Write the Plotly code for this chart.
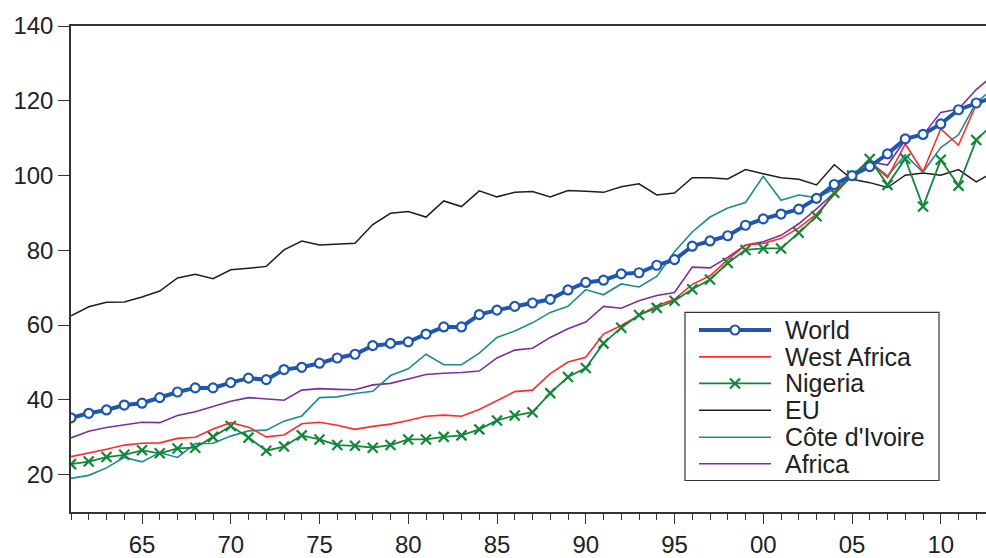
import plotly.graph_objects as go

years = list(range(1961, 2014))

world = [35.2, 36.4, 37.3, 38.6, 39.1, 40.6, 42.1, 43.2, 43.2, 44.6,
         45.8, 45.4, 48.1, 48.7, 49.8, 51.2, 52.2, 54.5, 55.1, 55.5,
         57.6, 59.5, 59.5, 62.8, 64.0, 65.0, 65.9, 66.9, 69.4, 71.4,
         72.0, 73.7, 74.0, 76.0, 77.5, 81.1, 82.5, 83.9, 86.7, 88.4,
         89.7, 91.0, 93.9, 97.6, 100.0, 102.4, 105.8, 109.8, 111.0, 113.8,
         117.6, 119.4, 121.0]

west_africa = [24.8, 25.7, 26.8, 27.9, 28.4, 28.5, 29.7, 30.0, 32.2, 33.9,
               32.7, 30.1, 30.6, 33.6, 34.0, 33.2, 32.1, 32.9, 33.5, 34.5,
               35.6, 35.9, 35.6, 37.4, 39.9, 42.2, 42.6, 47.0, 50.1, 51.4,
               57.6, 59.9, 62.6, 65.2, 66.9, 70.9, 73.2, 77.5, 81.4, 81.8,
               83.2, 86.0, 89.7, 95.0, 100.0, 103.7, 99.4, 108.5, 101.0, 112.5,
               108.1, 119.0, 121.5]

nigeria = [22.8, 23.5, 24.7, 25.3, 26.5, 25.7, 27.0, 27.2, 30.1, 33.0,
           29.9, 26.4, 27.5, 30.5, 29.4, 27.9, 27.7, 27.2, 27.9, 29.4,
           29.4, 30.1, 30.5, 32.1, 34.5, 35.8, 36.7, 41.8, 46.1, 48.5,
           55.1, 59.3, 62.7, 64.6, 66.5, 69.6, 72.2, 76.6, 80.1, 80.5,
           80.5, 84.7, 89.1, 95.4, 100.0, 104.4, 97.5, 104.5, 91.7, 104.2,
           97.3, 109.5, 114.0]

eu = [62.5, 64.9, 66.1, 66.2, 67.5, 69.1, 72.6, 73.6, 72.4, 74.8,
      75.2, 75.7, 80.1, 82.5, 81.4, 81.7, 81.9, 86.9, 89.9, 90.4,
      88.9, 93.2, 91.7, 95.9, 94.3, 95.5, 95.7, 94.3, 96.0, 95.8,
      95.5, 97.0, 97.8, 94.8, 95.3, 99.4, 99.4, 99.1, 101.6, 100.5,
      99.4, 99.0, 97.5, 102.9, 99.0, 98.1, 96.8, 100.1, 100.7, 100.1,
      101.6, 98.3, 101.0]

cote_divoire = [19.0, 19.8, 21.8, 24.6, 23.4, 25.9, 24.6, 28.3, 28.4, 30.3,
                31.7, 31.9, 34.3, 35.7, 40.6, 40.8, 41.7, 42.3, 46.5, 48.3,
                52.2, 49.4, 49.4, 52.5, 56.7, 58.4, 60.6, 63.4, 65.0, 69.5,
                68.1, 71.0, 70.2, 73.0, 79.6, 84.9, 88.9, 91.3, 92.8, 99.8,
                93.4, 94.8, 94.1, 96.3, 100.0, 103.7, 99.9, 105.5, 100.9, 107.5,
                110.9, 119.5, 123.5]

africa = [29.8, 31.6, 32.6, 33.2, 34.0, 33.9, 35.8, 36.8, 38.2, 39.6,
          40.6, 40.2, 39.9, 42.6, 43.0, 42.8, 42.7, 44.0, 44.4, 45.6,
          46.8, 47.1, 47.3, 47.7, 51.2, 53.3, 53.8, 56.7, 59.0, 60.8,
          65.0, 64.5, 66.5, 67.9, 68.7, 75.5, 75.3, 78.1, 81.4, 82.3,
          84.0, 87.1, 91.1, 95.4, 100.0, 103.7, 102.8, 109.5, 110.8, 116.9,
          117.8, 123.0, 127.0]

x_tickvals = [1965, 1970, 1975, 1980, 1985, 1990, 1995, 2000, 2005, 2010]
x_ticktext = ["65", "70", "75", "80", "85", "90", "95", "00", "05", "10"]
y_tickvals = [20, 40, 60, 80, 100, 120, 140]

legend_names = ["World", "West Africa", "Nigeria", "EU", "Côte d'Ivoire", "Africa"]

# ---- layout constants (pixels) ----
W, H = 986, 558
ML, MR, MT, MB = 71, 0, 26, 38
PW, PH = W - ML - MR, H - MT - MB
PX_PER_YEAR = 17.75
x_range = [1961, 1961 + PW / PX_PER_YEAR]

FONT = "Liberation Sans, Arial, Helvetica, sans-serif"
TXT = "#222222"

styles = {
    "World": dict(color="#1f56b0", width=4, marker=dict(symbol="circle", size=9,
                  color="white", line=dict(color="#1f56b0", width=2.2))),
    "West Africa": dict(color="#ff2a2a", width=1.6, marker=None),
    "Nigeria": dict(color="#12873a", width=1.8, marker=dict(symbol="x-thin", size=10,
                    line=dict(color="#12873a", width=2.2))),
    "EU": dict(color="#1e1e1e", width=1.5, marker=None),
    "Côte d'Ivoire": dict(color="#1b8c8c", width=1.6, marker=None),
    "Africa": dict(color="#7b2f9e", width=1.6, marker=None),
}

series = {
    "World": world, "West Africa": west_africa, "Nigeria": nigeria,
    "EU": eu, "Côte d'Ivoire": cote_divoire, "Africa": africa,
}

fig = go.Figure()

draw_order = ["EU", "Africa", "Côte d'Ivoire", "West Africa", "Nigeria", "World"]
for name in draw_order:
    st = styles[name]
    kw = dict(x=years, y=series[name], name=name, showlegend=False,
              line=dict(color=st["color"], width=st["width"]), cliponaxis=True)
    if st["marker"] is not None:
        kw["mode"] = "lines+markers"
        kw["marker"] = st["marker"]
    else:
        kw["mode"] = "lines"
    fig.add_trace(go.Scatter(**kw))

# ---- manual legend (pixel geometry converted to paper fractions) ----
def px2fx(px):
    return (px - ML) / PW

def py2fy(py):
    return (H - MB - py) / PH

box = dict(x0=685, x1=939, y0=317, y1=488)
item_y = [335, 362.3, 389.3, 416.7, 444, 471]
line_x0, line_x1, mark_x, text_x = 699, 771, 735, 783

fig.add_shape(type="rect", xref="paper", yref="paper",
              x0=px2fx(box["x0"]), x1=px2fx(box["x1"]),
              y0=py2fy(box["y1"]), y1=py2fy(box["y0"]),
              line=dict(color="#333333", width=1.2), fillcolor="white", layer="below")

for name, iy in zip(legend_names, item_y):
    st = styles[name]
    fy = py2fy(iy)
    fig.add_trace(go.Scatter(
        x=[px2fx(line_x0), px2fx(line_x1)], y=[fy, fy], xaxis="x2", yaxis="y2",
        mode="lines", line=dict(color=st["color"], width=st["width"]),
        showlegend=False, hoverinfo="skip"))
    if st["marker"] is not None:
        fig.add_trace(go.Scatter(
            x=[px2fx(mark_x)], y=[fy], xaxis="x2", yaxis="y2", mode="markers",
            marker=st["marker"], showlegend=False, hoverinfo="skip"))
    fig.add_annotation(x=px2fx(text_x), y=fy, xref="paper", yref="paper",
                       text=name, showarrow=False, xanchor="left", yanchor="middle",
                       font=dict(family=FONT, size=25, color=TXT))

fig.update_layout(
    width=W, height=H,
    margin=dict(l=ML, r=MR, t=MT, b=MB, pad=0),
    paper_bgcolor="white", plot_bgcolor="white",
    font=dict(family=FONT, size=24, color=TXT),
    showlegend=False,
    xaxis=dict(range=x_range, tickmode="array", tickvals=x_tickvals, ticktext=x_ticktext,
               ticks="outside", ticklen=10, tickwidth=1.2, tickcolor="#333333",
               showline=True, linecolor="#333333", linewidth=1.5, mirror=True,
               showgrid=False, zeroline=False,
               tickfont=dict(family=FONT, size=24, color=TXT),
               minor=dict(tickmode="linear", tick0=1961, dtick=1, ticks="outside",
                          ticklen=6, tickwidth=1.2, tickcolor="#333333", showgrid=False)),
    yaxis=dict(range=[10, 140], tickmode="array", tickvals=y_tickvals,
               ticks="outside", ticklen=11, tickwidth=1.2, tickcolor="#333333",
               showline=True, linecolor="#333333", linewidth=1.5, mirror=False,
               showgrid=False, zeroline=False,
               tickfont=dict(family=FONT, size=24, color=TXT)),
    xaxis2=dict(range=[0, 1], overlaying="x", visible=False, fixedrange=True),
    yaxis2=dict(range=[0, 1], overlaying="y", visible=False, fixedrange=True),
)

fig.write_html("out.html", config={"displayModeBar": False},
               post_script="document.body.style.margin='0';document.body.style.overflow='hidden';")
